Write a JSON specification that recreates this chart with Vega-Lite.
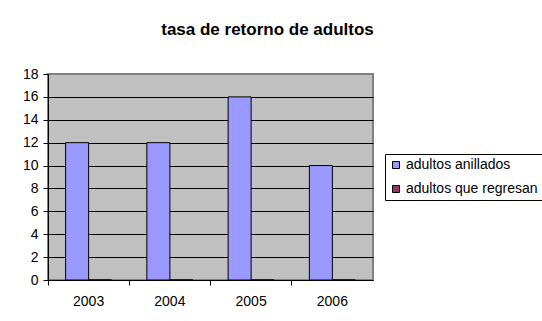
{
  "$schema": "https://vega.github.io/schema/vega-lite/v6.json",
  "autosize": "none",
  "width": 325,
  "height": 206,
  "padding": {"left": 48, "top": 74, "right": 169, "bottom": 41},
  "background": "white",
  "title": {
    "text": "tasa de retorno de adultos",
    "font": "Liberation Sans",
    "fontSize": 17,
    "fontWeight": "bold",
    "color": "black",
    "anchor": "middle",
    "frame": "group",
    "dx": 57,
    "offset": 28
  },
  "config": {
    "font": "Liberation Sans",
    "view": {"fill": "#C0C0C0", "stroke": "#808080", "strokeWidth": 2}
  },
  "data": {
    "values": [
      {"anio": "2003", "serie": "adultos anillados", "valor": 12},
      {"anio": "2004", "serie": "adultos anillados", "valor": 12},
      {"anio": "2005", "serie": "adultos anillados", "valor": 16},
      {"anio": "2006", "serie": "adultos anillados", "valor": 10},
      {"anio": "2003", "serie": "adultos que regresan", "valor": 0},
      {"anio": "2004", "serie": "adultos que regresan", "valor": 0},
      {"anio": "2005", "serie": "adultos que regresan", "valor": 0},
      {"anio": "2006", "serie": "adultos que regresan", "valor": 0}
    ]
  },
  "mark": {"type": "bar", "stroke": "black", "strokeWidth": 1},
  "encoding": {
    "x": {
      "field": "anio",
      "type": "nominal",
      "scale": {"paddingInner": 0, "paddingOuter": 0},
      "axis": {
        "title": null,
        "labelAngle": 0,
        "bandPosition": 0,
        "labelFontSize": 14,
        "labelColor": "black",
        "labelPadding": 9,
        "tickSize": 5,
        "tickColor": "black",
        "domainColor": "black",
        "grid": false
      }
    },
    "xOffset": {
      "field": "serie",
      "type": "nominal",
      "scale": {"paddingInner": 0, "paddingOuter": 0.766}
    },
    "y": {
      "field": "valor",
      "type": "quantitative",
      "scale": {"domain": [0, 18], "nice": false},
      "axis": {
        "title": null,
        "values": [0, 2, 4, 6, 8, 10, 12, 14, 16, 18],
        "labelFontSize": 14,
        "labelColor": "black",
        "labelPadding": 5,
        "tickSize": 5,
        "tickColor": "black",
        "domainColor": "black",
        "grid": true,
        "gridColor": {"condition": {"test": "datum.value === 18", "value": "#808080"}, "value": "black"},
        "gridOpacity": 1,
        "gridWidth": 1
      }
    },
    "color": {
      "field": "serie",
      "type": "nominal",
      "scale": {"domain": ["adultos anillados", "adultos que regresan"], "range": ["#9999FF", "#993366"]},
      "legend": {
        "title": null,
        "orient": "none",
        "legendX": 337,
        "legendY": 80,
        "strokeColor": "black",
        "fillColor": "white",
        "padding": 4,
        "symbolType": "square",
        "symbolSize": 49,
        "symbolStrokeColor": "black",
        "symbolStrokeWidth": 1,
        "symbolOpacity": 1,
        "labelFontSize": 14,
        "labelColor": "black",
        "labelOffset": 3,
        "rowPadding": 10
      }
    }
  }
}
